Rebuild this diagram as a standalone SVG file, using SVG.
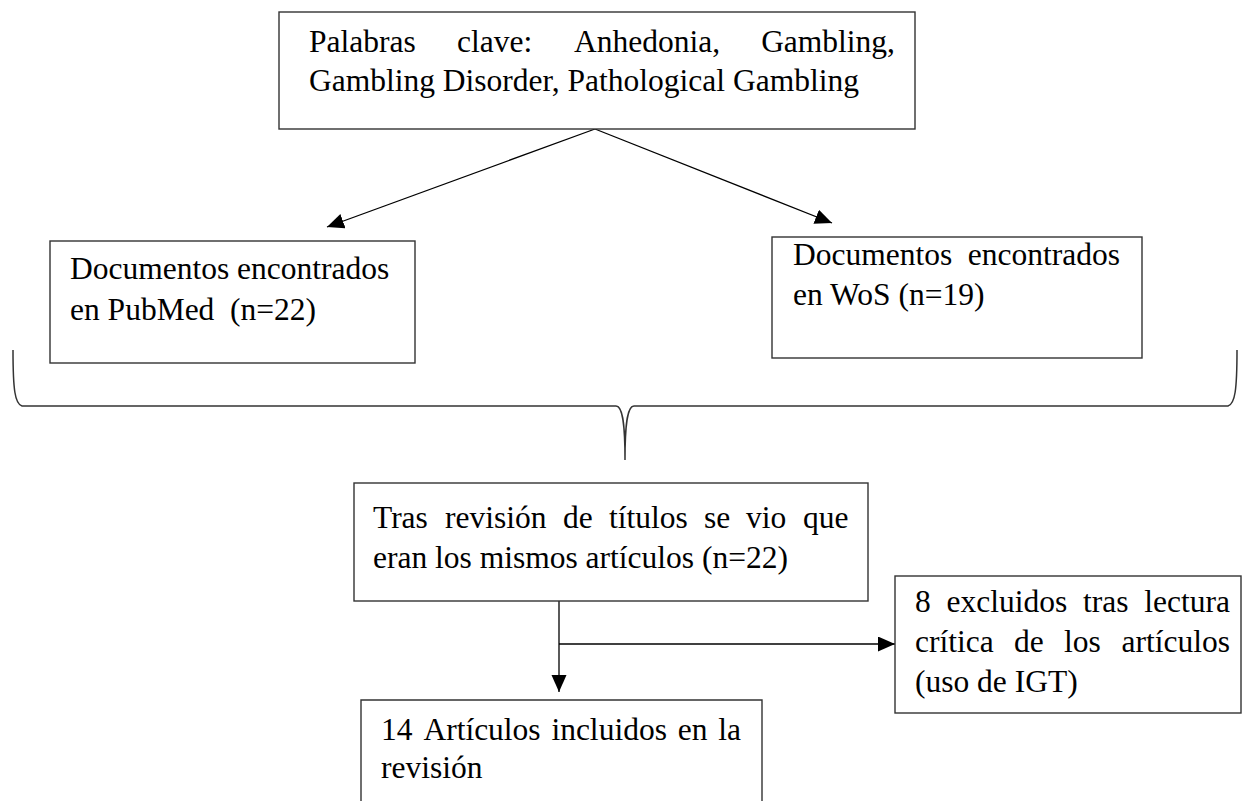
<svg xmlns="http://www.w3.org/2000/svg" width="1242" height="801" viewBox="0 0 1242 801">
<style>
.box{fill:#fff;stroke:#333;stroke-width:1.4}
.t{font-family:"Liberation Serif","Times New Roman",serif;font-size:31.5px;fill:#000;white-space:pre}
.e{text-anchor:end}
.c{fill:none;stroke:#000;stroke-width:1.3}
.brace{fill:none;stroke:#333;stroke-width:1.5}
</style>
<defs>
<marker id="ah" markerUnits="userSpaceOnUse" markerWidth="18" markerHeight="16" refX="17" refY="7.5" orient="auto">
<path d="M0,0 L17,7.5 L0,15 Z" fill="#000"/>
</marker>
</defs>
<rect width="1242" height="801" fill="#fff"/>
<g id="connectors">
<line class="c" x1="595" y1="129" x2="327" y2="227" marker-end="url(#ah)"/>
<line class="c" x1="595" y1="129" x2="832" y2="223" marker-end="url(#ah)"/>
<path class="brace" d="M13,350 C13,390 15,404 22,406 L616,406 C622,406 625,420 625,460 C625,420 628,406 634,406 L1228,406 C1235,404 1237,390 1237,350"/>
<line class="c" x1="559" y1="601" x2="559" y2="692" marker-end="url(#ah)"/>
<line class="c" x1="559" y1="644" x2="895" y2="644" marker-end="url(#ah)"/>
</g>
<g id="n-keywords">
<rect class="box" x="279" y="12" width="636" height="117"/>
<text class="t" y="52"><tspan x="309">Palabras</tspan><tspan x="457">clave:</tspan><tspan x="574">Anhedonia,</tspan></text>
<text class="t e" x="895" y="52">Gambling,</text>
<text class="t" x="309" y="91">Gambling Disorder, Pathological Gambling</text>
</g>
<g id="n-pubmed">
<rect class="box" x="50" y="241" width="365" height="122"/>
<text class="t" x="70" y="279">Documentos encontrados</text>
<text class="t" x="70" y="320">en PubMed  (n=22)</text>
</g>
<g id="n-wos">
<rect class="box" x="772" y="237" width="370" height="121"/>
<text class="t" x="793" y="265">Documentos</text>
<text class="t e" x="1120" y="265">encontrados</text>
<text class="t" x="793" y="305">en WoS (n=19)</text>
</g>
<g id="n-titles">
<rect class="box" x="354" y="483" width="514" height="118"/>
<text class="t" y="528"><tspan x="373">Tras</tspan><tspan x="445">revisión</tspan><tspan x="563">de</tspan><tspan x="609">títulos</tspan><tspan x="704">se</tspan><tspan x="746">vio</tspan><tspan x="803">que</tspan></text>
<text class="t" x="373" y="568">eran los mismos artículos (n=22)</text>
</g>
<g id="n-excluded">
<rect class="box" x="895" y="576" width="346" height="137"/>
<text class="t" y="612"><tspan x="915">8</tspan><tspan x="946.5">excluidos</tspan><tspan x="1083">tras</tspan></text>
<text class="t e" x="1230" y="612">lectura</text>
<text class="t" y="652"><tspan x="915">crítica</tspan><tspan x="1014">de</tspan><tspan x="1064">los</tspan></text>
<text class="t e" x="1230" y="652">artículos</text>
<text class="t" x="915" y="692">(uso de IGT)</text>
</g>
<g id="n-included">
<path class="box" d="M361,801 L361,700 L762,700 L762,801"/>
<text class="t" y="740"><tspan x="381">14</tspan><tspan x="423.4">Artículos</tspan><tspan x="551.4">incluidos</tspan><tspan x="677.8">en</tspan></text>
<text class="t e" x="741" y="740">la</text>
<text class="t" x="381" y="778">revisión</text>
</g>
</svg>
